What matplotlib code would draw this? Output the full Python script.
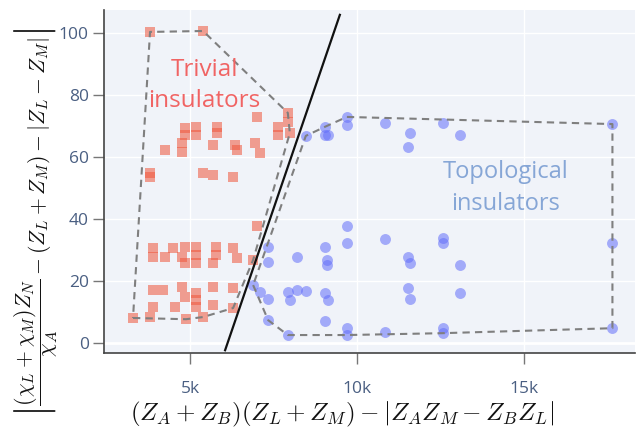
import numpy as np
import matplotlib
matplotlib.use('Agg')
import matplotlib.pyplot as plt

plt.rcParams['font.family'] = ['Open Sans', 'DejaVu Sans']
plt.rcParams['mathtext.fontset'] = 'cm'

# trivial insulators (red squares), x in units of 1k
trivial_x = [3.80, 5.39,
             7.01, 7.93, 7.93, 7.63, 7.63, 7.99,
             4.85, 5.18, 4.85, 5.18, 5.81, 5.81,
             4.25, 4.76, 4.76, 5.69, 6.35, 6.41, 6.95, 7.10,
             3.80, 3.80, 5.39, 5.69, 6.29,
             7.01,
             3.89, 3.89, 4.25, 4.49, 4.85, 5.18, 4.76, 4.85, 5.18, 5.18, 5.78, 5.78, 5.69, 6.29, 6.41, 6.89,
             3.89, 4.19, 4.76, 4.85, 5.18, 5.18, 5.69, 6.29,
             3.89, 4.55, 5.18, 5.69, 6.29,
             3.29, 3.80, 4.88, 5.39]
trivial_y = [100.3, 100.6,
             72.9, 74.2, 71.3, 69.7, 67.1, 67.7,
             69.4, 69.7, 67.1, 67.1, 69.7, 67.7,
             62.3, 64.5, 61.6, 63.9, 63.9, 62.3, 64.5, 61.3,
             54.8, 53.5, 54.8, 54.2, 53.5,
             37.7,
             30.6, 27.7, 27.7, 30.6, 31.0, 31.0, 27.7, 25.8, 25.8, 28.4, 31.0, 28.4, 25.8, 30.6, 27.4, 26.8,
             17.1, 17.1, 18.1, 14.8, 16.1, 13.9, 18.1, 17.7,
             11.6, 11.6, 11.6, 12.3, 11.3,
             8.1, 8.4, 7.7, 8.4]

# topological insulators (blue circles)
topo_x = [8.47, 9.04, 9.13, 9.04, 9.70, 9.70, 10.84, 11.59, 11.53, 12.57, 13.08, 17.66,
          9.70, 9.70, 10.84, 12.57, 12.57, 17.66,
          7.34, 7.34, 8.20, 9.04, 9.10, 9.10, 11.53, 11.59, 13.08,
          6.89, 7.10, 7.34, 7.93, 7.99, 8.20, 8.47, 9.04, 9.13, 11.53, 11.59, 13.08,
          7.34, 7.93, 9.04, 9.70, 9.70, 10.84, 12.57, 12.57, 17.66]
topo_y = [66.8, 69.7, 67.1, 67.1, 72.9, 70.3, 71.0, 67.7, 63.2, 71.0, 67.1, 70.6,
          37.7, 32.3, 33.5, 33.9, 32.3, 32.3,
          31.0, 26.1, 27.7, 31.0, 26.8, 25.2, 27.7, 25.8, 25.2,
          18.7, 16.5, 14.2, 16.5, 13.9, 17.1, 16.8, 16.1, 13.9, 17.7, 14.2, 16.1,
          7.4, 2.6, 7.1, 4.8, 2.6, 3.5, 4.8, 3.2, 4.8]

# separating line
boundary_x = [6.05, 9.49]
boundary_y = [-2.3, 105.8]

xticks = [5, 10, 15]
xtick_labels = ['5k', '10k', '15k']
yticks = [0, 20, 40, 60, 80, 100]


def hull(xs, ys):
    pts = sorted(set(zip(xs, ys)))

    def cross(o, a, b):
        return (a[0] - o[0]) * (b[1] - o[1]) - (a[1] - o[1]) * (b[0] - o[0])

    lower, upper = [], []
    for p in pts:
        while len(lower) >= 2 and cross(lower[-2], lower[-1], p) <= 0:
            lower.pop()
        lower.append(p)
    for p in reversed(pts):
        while len(upper) >= 2 and cross(upper[-2], upper[-1], p) <= 0:
            upper.pop()
        upper.append(p)
    h = lower[:-1] + upper[:-1]
    h.append(h[0])
    return [p[0] for p in h], [p[1] for p in h]


fig = plt.figure(figsize=(6.38, 4.30), dpi=100)
ax = fig.add_axes([0.163, 0.179, 0.833, 0.798])
ax.set_facecolor('#f0f3f9')

ax.scatter(trivial_x, trivial_y, marker='s', s=56, color='#EF553B', alpha=0.55,
           linewidths=0, zorder=3)
ax.scatter(topo_x, topo_y, marker='o', s=62, color='#636EFA', alpha=0.55,
           linewidths=0, zorder=3)

for xs, ys in [(trivial_x, trivial_y), (topo_x, topo_y)]:
    hx, hy = hull(xs, ys)
    ax.plot(hx, hy, color='#7f7f7f', lw=1.5, dashes=(3.5, 2.5), zorder=4)

ax.plot(boundary_x, boundary_y, color='#111111', lw=1.6, zorder=5)

ax.text(5.42, 83, 'Trivial\ninsulators', color='#f06464', fontsize=17.5,
        ha='center', va='center', linespacing=1.4, zorder=6)
ax.text(14.46, 50, 'Topological\ninsulators', color='#86a6d6', fontsize=17,
        ha='center', va='center', linespacing=1.4, zorder=6)

ax.set_xlim(2.42, 18.35)
ax.set_ylim(-3.2, 107.4)
ax.set_xticks(xticks)
ax.set_xticklabels(xtick_labels)
ax.set_yticks(yticks)

ax.grid(True, color='white', lw=1)
ax.axhline(0, color='white', lw=2, zorder=1)
ax.set_axisbelow(True)

for side in ['top', 'right']:
    ax.spines[side].set_visible(False)
for side in ['left', 'bottom']:
    ax.spines[side].set_color('#444444')
    ax.spines[side].set_linewidth(1.2)
ax.tick_params(direction='out', length=8, width=1, color='#777777',
               labelcolor='#4a5f82', labelsize=12.5)
ax.tick_params(axis='x', pad=12)
ax.tick_params(axis='y', pad=3)

# axis titles placed by hand (they are not centred on the axes in the original)
fig.text(0.536, 0.036, r'$(Z_A + Z_B)(Z_L + Z_M) - |Z_A Z_M - Z_B Z_L|$',
         fontsize=18, color='#111111', ha='center', va='center')
fig.text(0.056, 0.482,
         r'$\left|\dfrac{(\chi_L + \chi_M)Z_N}{\chi_A} - (Z_L + Z_M) - |Z_L - Z_M|\right|$',
         fontsize=15.6, color='#111111', ha='center', va='center', rotation=90)

fig.savefig('out.png', dpi=100)
